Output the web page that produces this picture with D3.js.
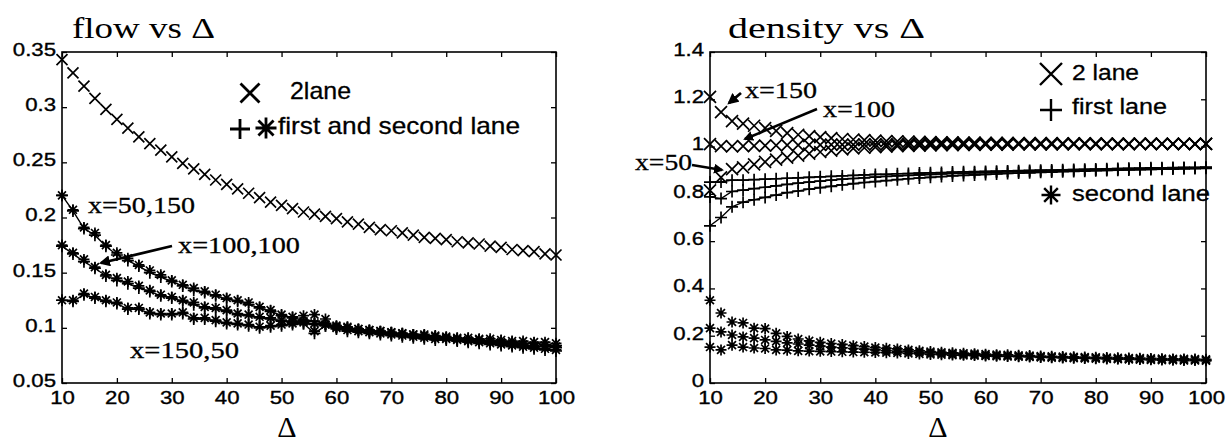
<!DOCTYPE html>
<html>
<head>
<meta charset="utf-8">
<script src="https://cdn.jsdelivr.net/npm/d3@7"></script>
<style>
  body { margin: 0; background: #fff; }
</style>
</head>
<body>
<svg id="chart" width="1229" height="440"></svg>
<script>
// Delta values (x axis), same for every series
var delta = [10,12,14,16,18,20,22,24,26,28,30,32,34,36,38,40,42,44,46,48,50,52,54,56,58,60,62,64,66,68,70,72,74,76,78,80,82,84,86,88,90,92,94,96,98,100];

// flow vs delta
var flowTwoLane = [0.343,0.331,0.319,0.308,0.298,0.289,0.281,0.273,0.267,0.261,
  0.255,0.249,0.244,0.239,0.234,0.230,0.226,0.222,0.218,0.214,
  0.211,0.208,0.205,0.203,0.201,0.199,0.196,0.194,0.191,0.189,
  0.188,0.186,0.184,0.182,0.181,0.180,0.178,0.177,0.176,0.174,
  0.173,0.171,0.170,0.169,0.167,0.166];
var flowFirstA = [0.220,0.206,0.190,0.184,0.174,0.166,0.161,0.156,0.150,0.146,
  0.142,0.138,0.134,0.132,0.129,0.126,0.124,0.121,0.118,0.115,
  0.111,0.109,0.107,0.106,0.104,0.101,0.100,0.098,0.097,0.096,
  0.095,0.094,0.093,0.093,0.092,0.091,0.090,0.090,0.089,0.088,
  0.088,0.087,0.086,0.086,0.085,0.084];
var flowSecondA = [0.220,0.207,0.191,0.186,0.175,0.168,0.163,0.157,0.152,0.148,
  0.143,0.139,0.136,0.133,0.130,0.127,0.125,0.123,0.119,0.116,
  0.112,0.110,0.111,0.112,0.108,0.102,0.101,0.099,0.098,0.097,
  0.096,0.095,0.094,0.094,0.093,0.092,0.091,0.091,0.090,0.090,
  0.089,0.088,0.088,0.087,0.087,0.086];
var flowFirstB = [0.174,0.167,0.160,0.154,0.147,0.143,0.140,0.136,0.133,0.129,
  0.127,0.124,0.121,0.118,0.117,0.115,0.112,0.111,0.109,0.108,
  0.106,0.105,0.104,0.103,0.102,0.100,0.099,0.098,0.097,0.096,
  0.095,0.094,0.093,0.092,0.091,0.090,0.089,0.088,0.088,0.087,
  0.086,0.085,0.084,0.083,0.083,0.082];
var flowSecondB = [0.175,0.168,0.162,0.155,0.148,0.145,0.142,0.138,0.134,0.130,
  0.128,0.125,0.123,0.119,0.118,0.116,0.113,0.112,0.110,0.109,
  0.107,0.106,0.105,0.104,0.103,0.101,0.100,0.099,0.098,0.097,
  0.096,0.095,0.094,0.093,0.092,0.091,0.090,0.089,0.089,0.088,
  0.087,0.086,0.085,0.084,0.084,0.083];
var flowFirstC = [0.125,0.124,0.130,0.127,0.124,0.122,0.117,0.117,0.113,0.112,
  0.112,0.113,0.108,0.108,0.106,0.104,0.103,0.102,0.100,0.101,
  0.102,0.103,0.104,0.095,0.102,0.099,0.097,0.096,0.095,0.094,
  0.093,0.092,0.091,0.090,0.089,0.089,0.088,0.087,0.086,0.085,
  0.084,0.083,0.082,0.081,0.080,0.079];
var flowSecondC = [0.125,0.125,0.131,0.128,0.125,0.123,0.118,0.118,0.114,0.113,
  0.113,0.114,0.109,0.109,0.107,0.105,0.104,0.103,0.101,0.102,
  0.103,0.104,0.106,0.097,0.103,0.100,0.098,0.097,0.096,0.095,
  0.094,0.093,0.092,0.091,0.090,0.090,0.089,0.088,0.087,0.086,
  0.085,0.084,0.083,0.082,0.081,0.080];

// density vs delta
var densTwoA = [1.210,1.146,1.108,1.097,1.088,1.078,1.066,1.057,1.050,1.044,
  1.040,1.036,1.032,1.030,1.027,1.025,1.023,1.022,1.021,1.020,
  1.019,1.018,1.018,1.017,1.017,1.016,1.016,1.016,1.015,1.015,
  1.015,1.015,1.014,1.014,1.014,1.014,1.013,1.013,1.013,1.013,
  1.013,1.012,1.012,1.012,1.012,1.012];
var densTwoB = [1.010,1.002,1.001,1.002,1.003,1.004,1.005,1.006,1.006,1.007,
  1.007,1.008,1.008,1.008,1.009,1.009,1.009,1.009,1.010,1.010,
  1.010,1.011,1.010,1.009,1.010,1.011,1.010,1.010,1.011,1.010,
  1.010,1.011,1.010,1.010,1.011,1.010,1.011,1.010,1.010,1.011,
  1.010,1.011,1.010,1.011,1.010,1.011];
var densTwoC = [0.815,0.870,0.905,0.912,0.925,0.935,0.945,0.953,0.962,0.970,
  0.977,0.983,0.988,0.992,0.995,0.998,1.000,1.002,1.003,1.004,
  1.005,1.006,1.006,1.007,1.007,1.008,1.008,1.008,1.009,1.009,
  1.009,1.009,1.010,1.010,1.010,1.010,1.010,1.010,1.010,1.011,
  1.011,1.011,1.011,1.011,1.011,1.011];
var densFirstA = [0.665,0.700,0.745,0.765,0.775,0.785,0.795,0.805,0.812,0.820,
  0.826,0.832,0.838,0.843,0.848,0.852,0.856,0.860,0.864,0.867,
  0.870,0.873,0.876,0.878,0.880,0.882,0.884,0.886,0.888,0.889,
  0.891,0.892,0.894,0.895,0.896,0.898,0.899,0.900,0.901,0.902,
  0.903,0.904,0.905,0.906,0.907,0.908];
var densFirstB = [0.787,0.780,0.810,0.816,0.822,0.828,0.834,0.840,0.845,0.850,
  0.854,0.858,0.862,0.865,0.868,0.871,0.874,0.876,0.878,0.880,
  0.882,0.884,0.886,0.887,0.889,0.890,0.891,0.893,0.894,0.895,
  0.896,0.897,0.898,0.899,0.900,0.901,0.902,0.903,0.904,0.905,
  0.906,0.907,0.908,0.909,0.910,0.911];
var densFirstC = [0.850,0.850,0.858,0.858,0.860,0.862,0.864,0.866,0.868,0.870,
  0.872,0.874,0.876,0.878,0.880,0.882,0.883,0.885,0.886,0.888,
  0.889,0.890,0.892,0.893,0.894,0.895,0.896,0.897,0.898,0.899,
  0.900,0.901,0.902,0.903,0.904,0.905,0.906,0.907,0.908,0.909,
  0.910,0.910,0.911,0.912,0.912,0.913];
var densSecondA = [0.350,0.296,0.258,0.254,0.232,0.230,0.210,0.197,0.186,0.178,
  0.172,0.167,0.163,0.158,0.154,0.150,0.147,0.144,0.140,0.136,
  0.133,0.130,0.128,0.126,0.124,0.122,0.120,0.119,0.117,0.116,
  0.114,0.113,0.112,0.111,0.110,0.109,0.108,0.107,0.106,0.105,
  0.104,0.103,0.102,0.102,0.101,0.100];
var densSecondB = [0.232,0.216,0.203,0.195,0.190,0.182,0.176,0.170,0.165,0.160,
  0.156,0.152,0.149,0.146,0.143,0.140,0.137,0.135,0.133,0.130,
  0.127,0.125,0.123,0.121,0.119,0.117,0.116,0.114,0.113,0.112,
  0.110,0.109,0.108,0.107,0.106,0.105,0.104,0.103,0.102,0.101,
  0.100,0.100,0.099,0.098,0.098,0.097];
var densSecondC = [0.152,0.140,0.160,0.152,0.148,0.146,0.140,0.139,0.136,0.135,
  0.134,0.133,0.132,0.131,0.130,0.129,0.128,0.127,0.125,0.123,
  0.121,0.120,0.118,0.117,0.116,0.114,0.113,0.112,0.111,0.110,
  0.108,0.107,0.106,0.105,0.104,0.103,0.102,0.101,0.100,0.099,
  0.098,0.097,0.096,0.095,0.095,0.094];

// ticks
var deltaTicks = [10,20,30,40,50,60,70,80,90,100];
var flowTicks = [0.05,0.1,0.15,0.2,0.25,0.3,0.35];
var densTicks = [0,0.2,0.4,0.6,0.8,1,1.2,1.4];

var serif = "'Liberation Serif', 'Times New Roman', serif";
var sans = "'Liberation Sans', Arial, Helvetica, sans-serif";

var svg = d3.select("#chart");

svg.append("defs").append("marker")
  .attr("id", "head")
  .attr("viewBox", "0 0 10 10")
  .attr("refX", 8).attr("refY", 5)
  .attr("markerWidth", 4).attr("markerHeight", 4)
  .attr("orient", "auto")
  .append("path").attr("d", "M0,0L10,5L0,10z").attr("fill", "#000");

function symbolPath(type, r) {
  if (type == "x") return "M"+(-r)+","+(-r)+"L"+r+","+r+"M"+(-r)+","+r+"L"+r+","+(-r);
  if (type == "+") return "M"+(-r)+",0H"+r+"M0,"+(-r)+"V"+r;
  var d = r*0.72;
  return "M"+(-r)+",0H"+r+"M0,"+(-r)+"V"+r+"M"+(-d)+","+(-d)+"L"+d+","+d+"M"+(-d)+","+d+"L"+d+","+(-d);
}

function drawPanel(p) {
  var x = d3.scaleLinear().domain([10, 100]).range([p.left, p.right]);
  var y = d3.scaleLinear().domain(p.ydomain).range([p.bottom, p.top]);
  var g = svg.append("g");

  p.series.forEach(function(s) {
    var pts = delta.map(function(d, i) { return [d, s.values[i]]; });
    if (s.line) {
      g.append("path").datum(pts)
        .attr("fill", "none").attr("stroke", "#000").attr("stroke-width", 1.4)
        .attr("d", d3.line().x(d => x(d[0])).y(d => y(d[1])));
    }
    g.selectAll(null).data(pts).enter().append("path")
      .attr("transform", d => "translate(" + x(d[0]) + "," + y(d[1]) + ")")
      .attr("d", symbolPath(s.symbol, s.size))
      .attr("fill", "none").attr("stroke", "#000").attr("stroke-width", 1.7);
  });

  g.append("rect")
    .attr("x", p.left).attr("y", p.top)
    .attr("width", p.right - p.left).attr("height", p.bottom - p.top)
    .attr("fill", "none").attr("stroke", "#000").attr("stroke-width", 1.6);

  var bottom = g.append("g").attr("transform", "translate(0," + p.bottom + ")")
    .call(d3.axisBottom(x).tickValues(deltaTicks).tickSize(-5).tickSizeOuter(0).tickPadding(8));
  var left = g.append("g").attr("transform", "translate(" + p.left + ",0)")
    .call(d3.axisLeft(y).tickValues(p.yticks).tickSize(-5).tickSizeOuter(0).tickPadding(5)
      .tickFormat(d => String(d)));
  var top = g.append("g").attr("transform", "translate(0," + p.top + ")")
    .call(d3.axisTop(x).tickValues(deltaTicks).tickSize(-5).tickSizeOuter(0).tickFormat(""));
  var right = g.append("g").attr("transform", "translate(" + p.right + ",0)")
    .call(d3.axisRight(y).tickValues(p.yticks).tickSize(-5).tickSizeOuter(0).tickFormat(""));

  [bottom, left, top, right].forEach(function(a) {
    a.select(".domain").remove();
    a.selectAll("line").attr("stroke", "#000").attr("stroke-width", 1.3);
    a.selectAll("text")
      .attr("font-family", sans).attr("font-size", 18.5).attr("fill", "#000")
      .attr("stroke", "#000").attr("stroke-width", 0.35)
      .attr("transform", "scale(1.2,1)");
  });
  left.selectAll("text").attr("dy", "0.18em");

  // axis label
  g.append("text")
    .attr("x", p.xlabelX).attr("y", 437)
    .attr("text-anchor", "middle")
    .attr("font-family", serif).attr("font-size", 30)
    .text("\u0394");

  g.append("text")
    .attr("x", p.titleX).attr("y", 38)
    .attr("font-family", serif).attr("font-size", 30)
    .attr("textLength", p.titleLen).attr("lengthAdjust", "spacingAndGlyphs")
    .text(p.title);

  return g;
}

function note(g, x, y, txt, len, size, family) {
  g.append("text").attr("x", x).attr("y", y)
    .attr("font-family", family).attr("font-size", size)
    .attr("stroke", "#000").attr("stroke-width", 0.3)
    .attr("textLength", len).attr("lengthAdjust", "spacingAndGlyphs")
    .text(txt);
}
function arrow(g, x1, y1, x2, y2, w) {
  g.append("line").attr("x1", x1).attr("y1", y1).attr("x2", x2).attr("y2", y2)
    .attr("stroke", "#000").attr("stroke-width", w)
    .attr("marker-end", "url(#head)");
}
function symbol(g, type, cx, cy, r, w) {
  g.append("path").attr("transform", "translate(" + cx + "," + cy + ")")
    .attr("d", symbolPath(type, r))
    .attr("fill", "none").attr("stroke", "#000").attr("stroke-width", w);
}

// left panel: flow
var flowPanel = drawPanel({
  left: 62, right: 556, top: 52, bottom: 383,
  ydomain: [0.05, 0.35], yticks: flowTicks,
  title: "flow vs \u0394", titleX: 72, titleLen: 143, xlabelX: 287,
  series: [
    {values: flowTwoLane, symbol: "x", size: 5.5, line: false},
    {values: flowFirstA, symbol: "+", size: 6, line: true},
    {values: flowSecondA, symbol: "*", size: 5.5, line: false},
    {values: flowFirstB, symbol: "+", size: 6, line: true},
    {values: flowSecondB, symbol: "*", size: 5.5, line: false},
    {values: flowFirstC, symbol: "+", size: 6, line: true},
    {values: flowSecondC, symbol: "*", size: 5.5, line: false}
  ]
});
symbol(flowPanel, "x", 250, 93, 9.5, 2.8);
note(flowPanel, 290, 99, "2lane", 61, 24, sans);
symbol(flowPanel, "+", 240, 129, 10, 2.8);
symbol(flowPanel, "*", 266, 128, 10.5, 2.8);
note(flowPanel, 278, 134, "first and second lane", 242, 24, sans);
note(flowPanel, 88, 213, "x=50,150", 107, 24, serif);
note(flowPanel, 178, 253, "x=100,100", 122, 24, serif);
note(flowPanel, 130, 358, "x=150,50", 109, 24, serif);
arrow(flowPanel, 172, 246, 101, 263, 2.8);

// right panel: density
var densPanel = drawPanel({
  left: 710, right: 1206, top: 52, bottom: 383,
  ydomain: [0, 1.4], yticks: densTicks,
  title: "density vs \u0394", titleX: 728, titleLen: 197, xlabelX: 938,
  series: [
    {values: densTwoA, symbol: "x", size: 6, line: false},
    {values: densTwoB, symbol: "x", size: 6, line: false},
    {values: densTwoC, symbol: "x", size: 6, line: false},
    {values: densFirstA, symbol: "+", size: 6, line: true},
    {values: densFirstB, symbol: "+", size: 6, line: true},
    {values: densFirstC, symbol: "+", size: 6, line: true},
    {values: densSecondA, symbol: "*", size: 5.5, line: false},
    {values: densSecondB, symbol: "*", size: 5.5, line: false},
    {values: densSecondC, symbol: "*", size: 5.5, line: false}
  ]
});
symbol(densPanel, "x", 1051, 74, 11, 2.4);
note(densPanel, 1072, 80, "2 lane", 67, 22, sans);
symbol(densPanel, "+", 1051, 110, 11, 2.4);
note(densPanel, 1072, 114, "first lane", 95, 22, sans);
symbol(densPanel, "*", 1051, 195, 9.5, 2.4);
note(densPanel, 1072, 201, "second lane", 138, 22, sans);
note(densPanel, 745, 98, "x=150", 72, 24, serif);
note(densPanel, 823, 117, "x=100", 72, 24, serif);
note(densPanel, 635, 170, "x=50", 57, 24, serif);
arrow(densPanel, 741, 93, 729, 103, 2.8);
arrow(densPanel, 817, 109, 745, 139, 2.5);
arrow(densPanel, 692, 165, 722, 170, 2.5);
</script>
</body>
</html>
